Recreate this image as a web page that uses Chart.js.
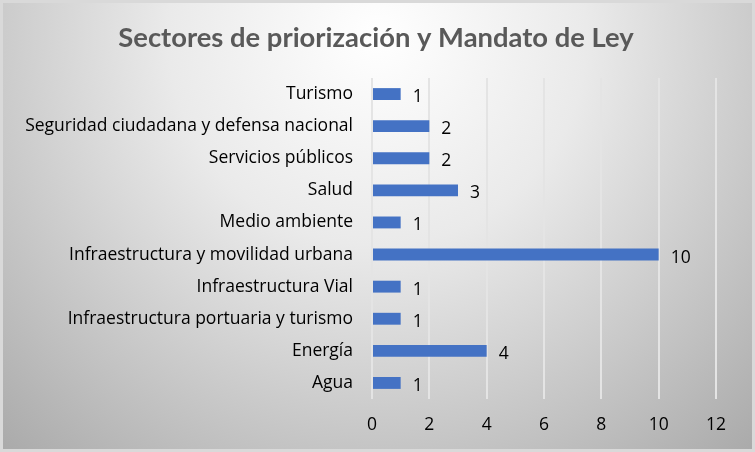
<!DOCTYPE html>
<html>
<head>
<meta charset="utf-8">
<script src="https://cdn.jsdelivr.net/npm/chart.js@4/dist/chart.umd.min.js"></script>
<style>
  html, body { margin: 0; padding: 0; background: #fff; }
  #wrap { width: 755px; height: 452px; }
</style>
</head>
<body>
<div id="wrap"><canvas id="chart" width="755" height="452"></canvas></div>
<script>
const sectors = [
  'Turismo',
  'Seguridad ciudadana y defensa nacional',
  'Servicios públicos',
  'Salud',
  'Medio ambiente',
  'Infraestructura y movilidad urbana',
  'Infraestructura Vial',
  'Infraestructura portuaria y turismo',
  'Energía',
  'Agua',
];
const counts = [1, 2, 2, 3, 1, 10, 1, 1, 4, 1];
const xTicks = [0, 2, 4, 6, 8, 10, 12];
const chartTitle = 'Sectores de priorización y Mandato de Ley';

const FONT = "'Open Sans', Lato, sans-serif";
const TITLE_FONT = "Lato, 'Open Sans', sans-serif";

// gradient background, outer border and the title centred on the whole canvas
const background = {
  id: 'background',
  beforeDraw(chart) {
    const { ctx, width, height } = chart;
    ctx.save();
    const cx = width * 0.5, cy = height * 0.08;
    const g = ctx.createRadialGradient(cx, cy, 0, cx, cy, Math.hypot(width * 0.55, height * 0.95));
    g.addColorStop(0, '#ffffff');
    g.addColorStop(0.35, '#eaeaea');
    g.addColorStop(1, '#a3a3a3');
    ctx.fillStyle = g;
    ctx.fillRect(0, 0, width, height);
    ctx.strokeStyle = '#d9d9d9';
    ctx.lineWidth = 3;
    ctx.strokeRect(1.5, 1.5, width - 3, height - 3);

    ctx.font = 'bold 27.4px ' + TITLE_FONT;
    ctx.fillStyle = '#595959';
    ctx.textAlign = 'center';
    ctx.textBaseline = 'middle';
    ctx.fillText(chartTitle, 376, 38);
    ctx.restore();
  }
};

// value labels just right of each bar
const valueLabels = {
  id: 'valueLabels',
  afterDatasetsDraw(chart) {
    const { ctx } = chart;
    const meta = chart.getDatasetMeta(0);
    ctx.save();
    ctx.font = '17.5px ' + FONT;
    ctx.fillStyle = '#000';
    ctx.textAlign = 'left';
    ctx.textBaseline = 'middle';
    meta.data.forEach((bar, i) => {
      ctx.fillText(String(counts[i]), bar.x + 12, bar.y + 3);
    });
    ctx.restore();
  }
};

new Chart(document.getElementById('chart'), {
  type: 'bar',
  data: {
    labels: sectors,
    datasets: [{
      data: counts,
      backgroundColor: '#4472c4',
      barPercentage: 0.37,
      categoryPercentage: 1,
    }],
  },
  options: {
    indexAxis: 'y',
    responsive: false,
    animation: false,
    layout: { padding: { left: 0, right: 39, top: 78, bottom: 0 } },
    plugins: {
      legend: { display: false },
      tooltip: { enabled: false },
    },
    scales: {
      x: {
        min: 0,
        max: 12,
        afterBuildTicks(scale) { scale.ticks = xTicks.map((v) => ({ value: v })); },
        grid: { color: '#e4e4e4', lineWidth: 2, drawTicks: false },
        border: { display: false },
        ticks: { color: '#000', font: { family: FONT, size: 17.5 }, padding: 16 },
      },
      y: {
        afterFit(scale) { scale.width = 372; },
        grid: { display: false, drawTicks: false },
        border: { display: false },
        ticks: { color: '#000', font: { family: FONT, size: 17.5 }, padding: 19 },
      },
    },
  },
  plugins: [background, valueLabels],
});
</script>
</body>
</html>
